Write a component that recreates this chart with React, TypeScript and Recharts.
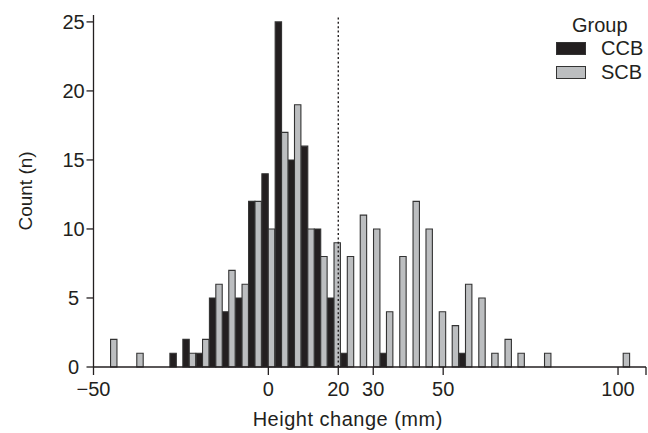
import { Bar, BarChart, Legend, ReferenceLine, XAxis, YAxis } from "recharts";

const FONT = '"Liberation Sans", Arial, Helvetica, sans-serif';
const INK = "#231f20";

// bin centres of the histogram (mm)
const binCenters = [
  -45.1, -37.6, -26.3, -22.6, -18.8, -15.0, -11.3, -7.5, -3.8, 0, 3.8, 7.5, 11.3, 15.0, 18.8,
  22.6, 26.3, 30.1, 33.8, 37.6, 41.4, 45.1, 48.9, 52.6, 56.4, 60.2, 63.9, 67.7, 71.4, 79.0, 101.5,
];
const ccbCounts = [
  0, 0, 1, 2, 1, 5, 4, 5, 12, 14, 25, 15, 16, 10, 5, 1, 0, 0, 1, 0, 0, 0, 0, 0, 1, 0, 0, 0, 0, 0, 0,
];
const scbCounts = [
  2, 1, 0, 1, 2, 6, 7, 6, 12, 10, 17, 19, 10, 8, 9, 8, 11, 10, 4, 8, 12, 10, 4, 3, 6, 5, 1, 2, 1, 1, 1,
];

const xTicks = [-50, 0, 20, 30, 50, 100, 108];
const yTicks = [0, 5, 10, 15, 20, 25];
const cutoff = 20;

const groups = [
  { key: "ccb", name: "CCB", color: INK },
  { key: "scb", name: "SCB", color: "#bcbec0" },
];

const data = binCenters.map((x, i) => ({ x, ccb: ccbCounts[i], scb: scbCounts[i] }));

const fmtX = (v: number) => (v === 108 ? "" : v < 0 ? `\u2212${Math.abs(v)}` : String(v));

function GroupLegend() {
  return (
    <div style={{ position: "relative", fontFamily: FONT, color: INK, fontSize: 20, lineHeight: "20px" }}>
      <div style={{ position: "absolute", left: 572, top: 15 }}>Group</div>
      {groups.map((g, i) => (
        <div key={g.key}>
          <div
            style={{
              position: "absolute",
              left: 556,
              top: 42 + i * 23.5,
              width: 30,
              height: 13,
              boxSizing: "border-box",
              background: g.color,
              border: "1px solid #333",
            }}
          />
          <div style={{ position: "absolute", left: 601, top: 38 + i * 24 }}>{g.name}</div>
        </div>
      ))}
    </div>
  );
}

export default function App() {
  return (
    <div style={{ position: "absolute", left: 0, top: 0, background: "#fff" }}>
      <BarChart
        width={648}
        height={433}
        data={data}
        margin={{ top: 15, right: 2, bottom: 0, left: 0 }}
        barGap={0}
        style={{ fontFamily: FONT }}
      >
        <XAxis
          dataKey="x"
          type="number"
          domain={[-50, 108]}
          ticks={xTicks}
          interval={0}
          allowDataOverflow
          tickFormatter={fmtX}
          height={66}
          tickSize={8}
          tickMargin={7}
          axisLine={{ stroke: INK, strokeWidth: 1.3 }}
          tickLine={{ stroke: INK, strokeWidth: 1.3 }}
          tick={{ fill: INK, fontSize: 20 }}
          label={{
            value: "Height change (mm)",
            position: "insideBottom",
            offset: 7,
            dx: -22,
            fill: INK,
            fontSize: 20,
            style: { letterSpacing: "0.5px" },
          }}
        />
        <YAxis
          type="number"
          domain={[0, 25.5]}
          ticks={yTicks}
          interval={0}
          width={93.5}
          tickSize={7}
          tickMargin={13}
          axisLine={{ stroke: INK, strokeWidth: 1.3 }}
          tickLine={{ stroke: INK, strokeWidth: 1.3 }}
          tick={{ fill: INK, fontSize: 20, textAnchor: "middle" }}
          label={{
            value: "Count (n)",
            angle: -90,
            position: "insideLeft",
            offset: 25,
            fill: INK,
            fontSize: 19,
            style: { textAnchor: "middle" },
          }}
        />
        <Legend
          layout="horizontal"
          verticalAlign="middle"
          align="center"
          wrapperStyle={{ left: 0, top: 0, width: 648, height: 0 }}
          content={() => <GroupLegend />}
        />
        {groups.map((g) => (
          <Bar
            key={g.key}
            dataKey={g.key}
            name={g.name}
            fill={g.color}
            stroke="#333"
            strokeWidth={1.1}
            barSize={6.4}
            isAnimationActive={false}
          />
        ))}
        <ReferenceLine x={cutoff} stroke={INK} strokeWidth={1.4} strokeDasharray="2 2.4" />
      </BarChart>
    </div>
  );
}
